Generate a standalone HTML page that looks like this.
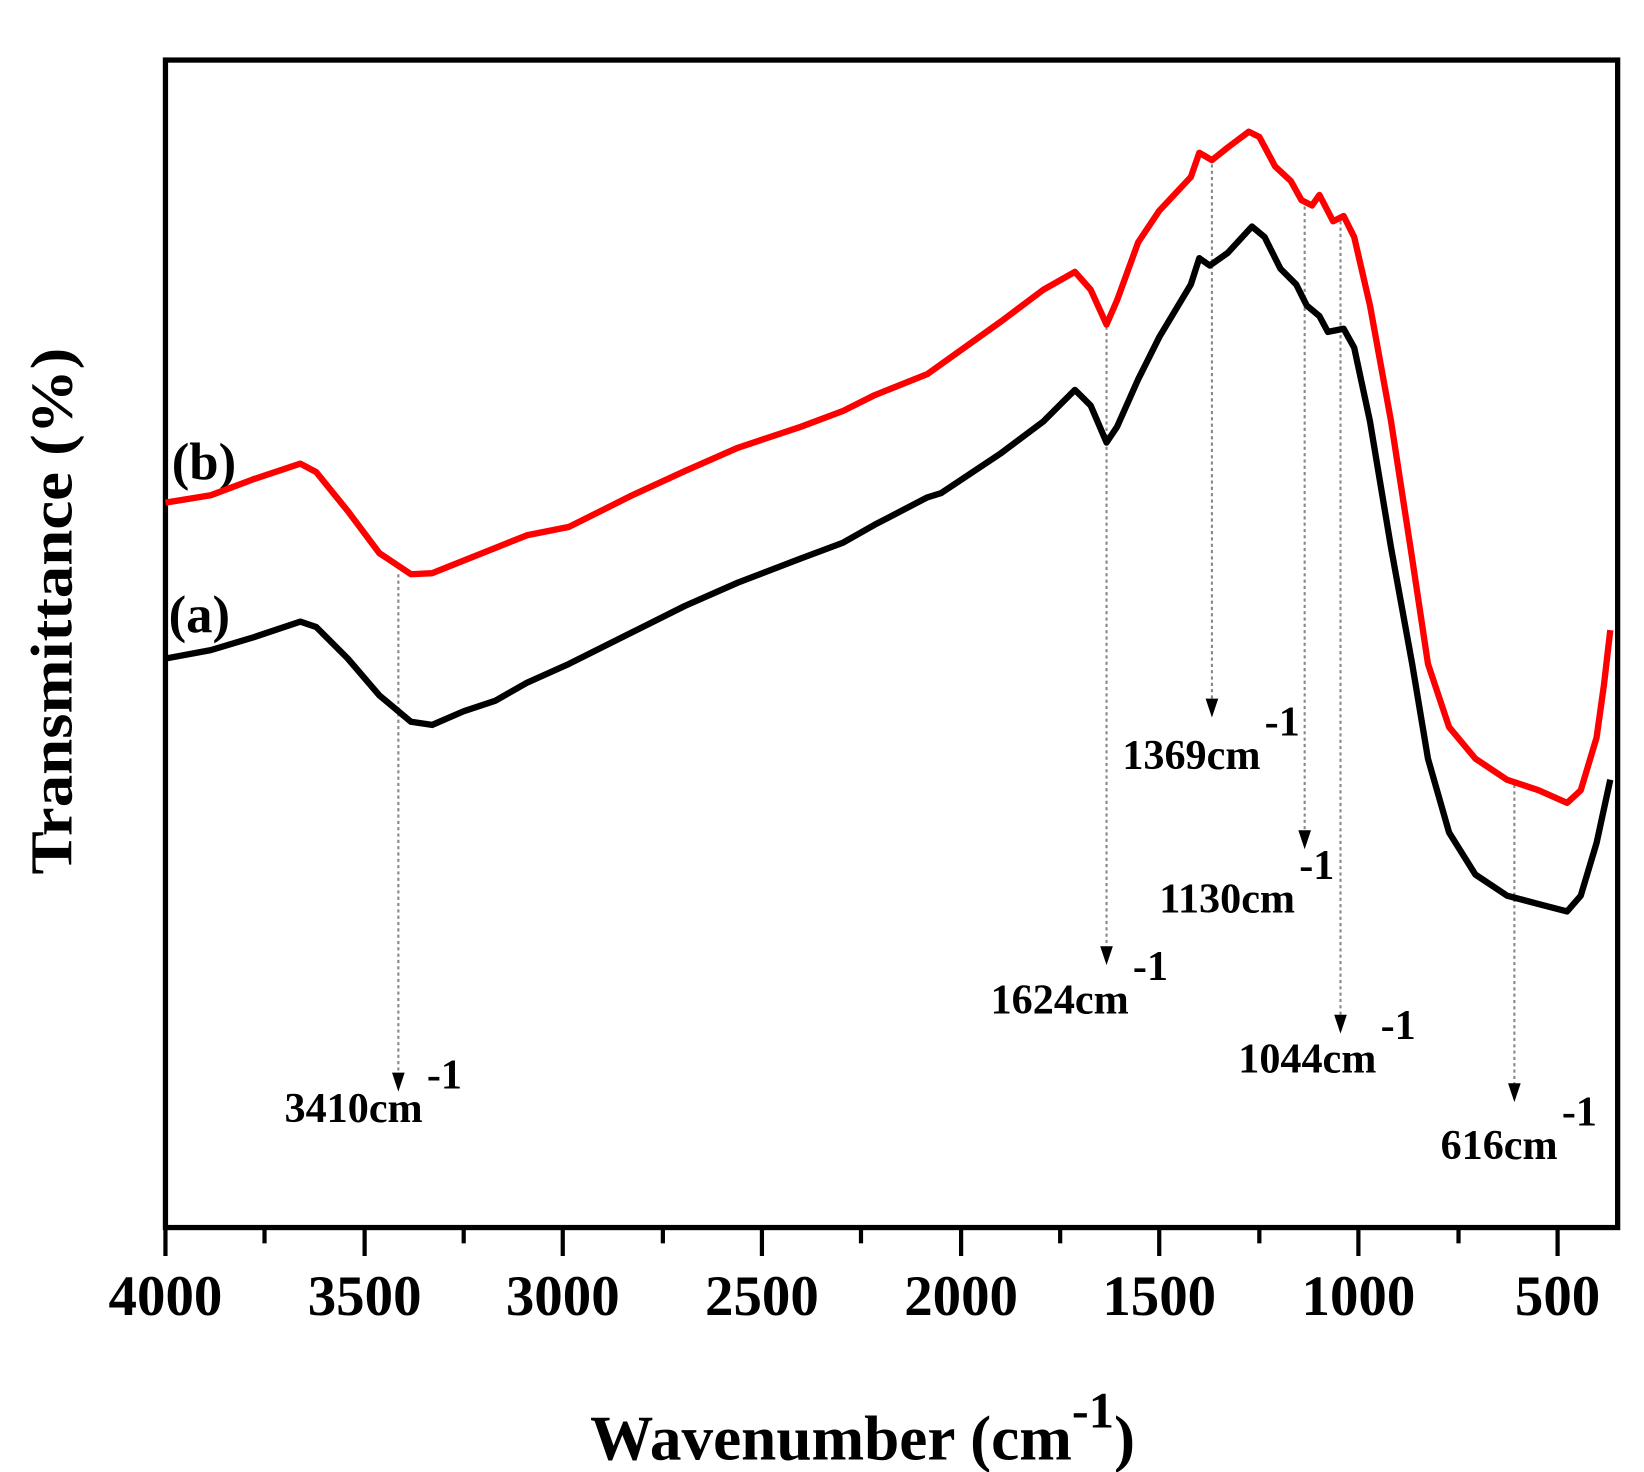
<!DOCTYPE html>
<html><head><style>html,body{margin:0;padding:0;background:#fff}svg{display:block}</style></head>
<body>
<svg width="1644" height="1472" viewBox="0 0 1560 1397" preserveAspectRatio="none" xmlns="http://www.w3.org/2000/svg" font-family="Liberation Serif, serif" font-weight="bold">
<rect x="157" y="57" width="1378" height="1108" fill="none" stroke="#000" stroke-width="5"/>
<g stroke="#000" stroke-width="4">
<line x1="157" y1="1165" x2="157" y2="1192"/><line x1="346" y1="1165" x2="346" y2="1192"/><line x1="534" y1="1165" x2="534" y2="1192"/><line x1="723" y1="1165" x2="723" y2="1192"/><line x1="912" y1="1165" x2="912" y2="1192"/><line x1="1100" y1="1165" x2="1100" y2="1192"/><line x1="1289" y1="1165" x2="1289" y2="1192"/><line x1="1478" y1="1165" x2="1478" y2="1192"/>
<line x1="251" y1="1165" x2="251" y2="1180"/><line x1="440" y1="1165" x2="440" y2="1180"/><line x1="629" y1="1165" x2="629" y2="1180"/><line x1="817" y1="1165" x2="817" y2="1180"/><line x1="1006" y1="1165" x2="1006" y2="1180"/><line x1="1195" y1="1165" x2="1195" y2="1180"/><line x1="1384" y1="1165" x2="1384" y2="1180"/>
</g>
<g font-size="54" text-anchor="middle">
<text x="157" y="1248">4000</text><text x="346" y="1248">3500</text><text x="534" y="1248">3000</text><text x="723" y="1248">2500</text><text x="912" y="1248">2000</text><text x="1100" y="1248">1500</text><text x="1289" y="1248">1000</text><text x="1478" y="1248">500</text>
</g>
<text transform="translate(68,580) rotate(-90)" font-size="56" text-anchor="middle" textLength="500" lengthAdjust="spacingAndGlyphs">Transmittance (%)</text>
<text x="560" y="1385" font-size="60">Wavenumber (cm<tspan dy="-30" font-size="48">-1</tspan><tspan dy="30">)</tspan></text>
<text x="163" y="455" font-size="50">(b)</text>
<text x="160" y="600" font-size="50">(a)</text>
<g stroke="#888" stroke-width="2" stroke-dasharray="3,3" fill="none">
<line x1="378" y1="545" x2="378" y2="1020"/>
<line x1="1050" y1="310" x2="1050" y2="900"/>
<line x1="1150" y1="150" x2="1150" y2="665"/>
<line x1="1238" y1="190" x2="1238" y2="790"/>
<line x1="1272" y1="210" x2="1272" y2="965"/>
<line x1="1437" y1="745" x2="1437" y2="1030"/>
</g>
<g fill="#000">
<path d="M372,1018 h12 l-6,18 z"/>
<path d="M1044,898 h12 l-6,18 z"/>
<path d="M1144,663 h12 l-6,18 z"/>
<path d="M1232,788 h12 l-6,18 z"/>
<path d="M1266,963 h12 l-6,18 z"/>
<path d="M1431,1028 h12 l-6,18 z"/>
</g>
<g font-size="40">
<text x="270" y="1065">3410cm<tspan dy="-32" dx="4">-1</tspan></text>
<text x="940" y="962">1624cm<tspan dy="-32" dx="4">-1</tspan></text>
<text x="1065" y="730">1369cm<tspan dy="-32" dx="4">-1</tspan></text>
<text x="1100" y="866">1130cm<tspan dy="-32" dx="4">-1</tspan></text>
<text x="1175" y="1018">1044cm<tspan dy="-32" dx="4">-1</tspan></text>
<text x="1367" y="1100">616cm<tspan dy="-32" dx="4">-1</tspan></text>
</g>
<polyline fill="none" stroke="#000" stroke-width="6" stroke-linejoin="round" points="157,625 200,617 240,605 285,590 300,595 330,625 360,660 390,685 410,688 440,675 470,665 500,648 540,630 600,600 650,575 700,553 760,530 800,515 830,498 880,472 893,468 950,430 990,400 1020,370 1035,385 1050,420 1060,405 1080,360 1100,320 1130,270 1138,245 1148,252 1165,240 1188,215 1200,225 1215,255 1230,270 1240,290 1252,300 1260,315 1275,312 1285,330 1300,400 1320,520 1340,630 1355,720 1375,790 1400,830 1430,850 1460,858 1487,865 1500,850 1515,800 1528,740"/>
<polyline fill="none" stroke="#f00" stroke-width="6" stroke-linejoin="round" points="157,477 200,470 240,455 285,440 300,448 330,485 360,525 390,545 410,544 440,532 470,520 500,508 540,500 600,470 650,447 700,425 760,405 800,390 830,375 880,355 950,305 990,275 1020,258 1035,275 1050,308 1060,285 1080,230 1100,200 1130,168 1138,145 1150,152 1165,140 1185,125 1195,130 1210,158 1225,172 1235,190 1245,195 1252,185 1265,210 1275,205 1285,225 1300,290 1320,400 1340,530 1355,630 1375,690 1400,720 1430,740 1460,750 1487,762 1500,750 1515,700 1522,650 1528,598"/>
</svg>
</body></html>
